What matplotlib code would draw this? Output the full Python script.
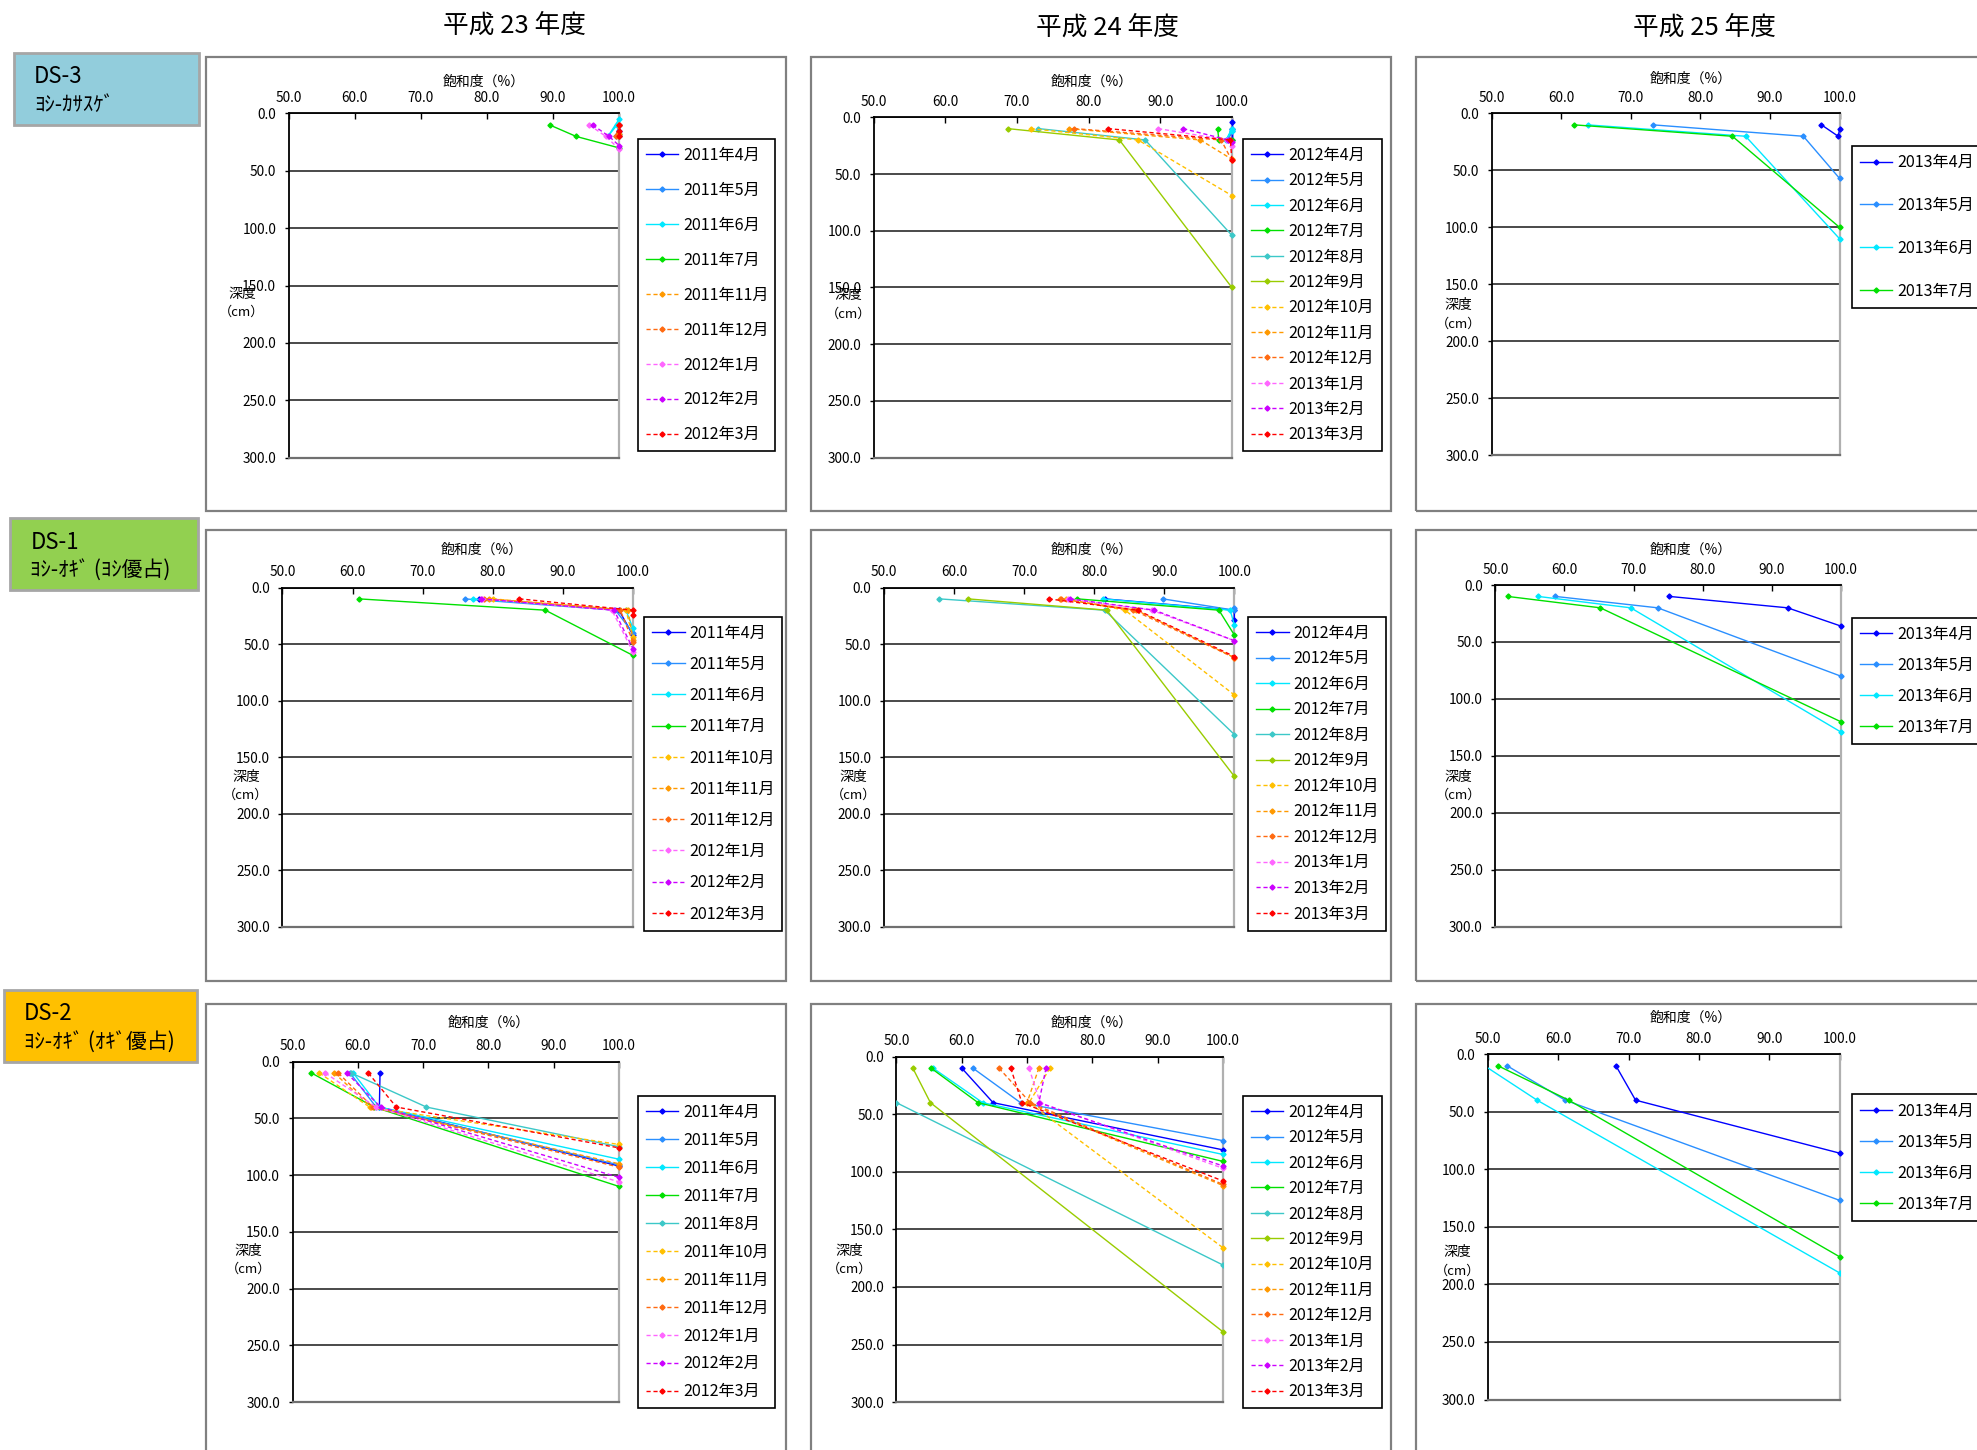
import matplotlib
matplotlib.use('Agg')
import matplotlib.pyplot as plt
from matplotlib.patches import Rectangle

plt.rcParams['font.family'] = ['Noto Sans CJK JP', 'DejaVu Sans']

# ----------------------------------------------------------------- data
year_titles = ['平成 23 年度', '平成 24 年度', '平成 25 年度']
site_names = ['DS-3', 'DS-1', 'DS-2']
site_types = ['ﾖｼ-ｶｻｽｹﾞ', 'ﾖｼ-ｵｷﾞ (ﾖｼ優占)', 'ﾖｼ-ｵｷﾞ (ｵｷﾞ優占)']
x_ticks = [50.0, 60.0, 70.0, 80.0, 90.0, 100.0]
y_ticks = [0.0, 50.0, 100.0, 150.0, 200.0, 250.0, 300.0]
x_title = '飽和度（%）'
y_title = ['深度', '（cm）']

# ---- DS-3  平成23年度
ds3_h23_labels = ['2011年4月', '2011年5月', '2011年6月', '2011年7月', '2011年11月',
                  '2011年12月', '2012年1月', '2012年2月', '2012年3月']
ds3_h23_sat = [[100, 100, 100], [100, 99.5, 100], [99.7, 98.3, 100], [89.5, 93.5, 100],
               [100, 99.8, 100], [100, 99.5, 100], [95.5, 98.0, 100], [96.0, 98.5, 100],
               [100, 100, 100]]
ds3_h23_depth = [[10, 20, 15], [10, 20, 18], [10, 20, 5], [10, 20, 30],
                 [10, 20, 18], [10, 20, 20], [10, 20, 31], [10, 20, 28],
                 [10, 20, 15]]

# ---- DS-3  平成24年度
ds3_h24_labels = ['2012年4月', '2012年5月', '2012年6月', '2012年7月', '2012年8月', '2012年9月',
                  '2012年10月', '2012年11月', '2012年12月', '2013年1月', '2013年2月', '2013年3月']
ds3_h24_sat = [[100, 100, 100], [100, 99.5, 100], [100, 99.2, 100], [98.0, 98.2, 100],
               [73.0, 87.9, 100], [68.7, 84.3, 100], [71.9, 86.9, 100], [77.2, 95.6, 100],
               [78.0, 98.5, 100], [89.7, 99.3, 100], [93.2, 99.5, 100], [82.7, 99.8, 100]]
ds3_h24_depth = [[10, 20, 4], [10, 20, 12], [10, 20, 12], [10, 20, 20],
                 [10, 20, 104], [10, 20, 150], [10, 20, 69], [10, 20, 37],
                 [10, 20, 38], [10, 20, 25], [10, 20, 22], [10, 20, 38]]

# ---- DS-3  平成25年度
ds3_h25_labels = ['2013年4月', '2013年5月', '2013年6月', '2013年7月']
ds3_h25_sat = [[97.4, 99.8, 100], [73.2, 94.8, 100], [63.8, 86.5, 100], [61.9, 84.6, 100]]
ds3_h25_depth = [[10, 20, 14], [10, 20, 57], [10, 20, 110], [10, 20, 100]]

# ---- DS-1  平成23年度
ds1_h23_labels = ['2011年4月', '2011年5月', '2011年6月', '2011年7月', '2011年10月',
                  '2011年11月', '2011年12月', '2012年1月', '2012年2月', '2012年3月']
ds1_h23_sat = [[78.0, 98.0, 100], [76.0, 97.5, 100], [77.2, 99.0, 100], [60.9, 87.5, 100],
               [80.0, 99.0, 100], [79.5, 99.3, 100], [78.8, 98.2, 100], [78.5, 97.0, 100],
               [78.3, 97.3, 100], [83.8, 100, 100]]
ds1_h23_depth = [[10, 20, 42], [10, 20, 40], [10, 20, 36], [10, 20, 60],
                 [10, 20, 44], [10, 20, 46], [10, 20, 48], [10, 20, 57],
                 [10, 20, 54], [10, 20, 24]]

# ---- DS-1  平成24年度
ds1_h24_labels = ds3_h24_labels
ds1_h24_sat = [[81.5, 100, 100], [89.8, 100, 100], [81.2, 99.4, 100], [77.6, 97.8, 100],
               [57.9, 81.5, 100], [62.0, 81.8, 100], [76.0, 84.4, 100], [75.1, 86.0, 100],
               [75.3, 85.6, 100], [76.3, 88.2, 100], [76.6, 88.6, 100], [73.5, 86.2, 100]]
ds1_h24_depth = [[10, 20, 29], [10, 20, 18], [10, 20, 33], [10, 20, 42],
                 [10, 20, 130], [10, 20, 167], [10, 20, 95], [10, 20, 62],
                 [10, 20, 62], [10, 20, 47], [10, 20, 47], [10, 20, 61]]

# ---- DS-1  平成25年度
ds1_h25_labels = ds3_h25_labels
ds1_h25_sat = [[75.2, 92.3, 100], [58.7, 73.5, 100], [56.2, 69.6, 100], [51.8, 65.2, 100]]
ds1_h25_depth = [[10, 20, 36], [10, 20, 80], [10, 20, 129], [10, 20, 120]]

# ---- DS-2  平成23年度
ds2_h23_labels = ['2011年4月', '2011年5月', '2011年6月', '2011年7月', '2011年8月',
                  '2011年10月', '2011年11月', '2011年12月', '2012年1月', '2012年2月',
                  '2012年3月']
ds2_h23_sat = [[63.4, 63.3, 100], [58.8, 62.8, 100], [59.3, 63.3, 100], [52.9, 62.5, 100],
               [59.0, 70.5, 100], [54.1, 61.8, 100], [56.4, 62.0, 100], [57.0, 62.3, 100],
               [55.0, 62.8, 100], [58.3, 63.5, 100], [61.6, 65.9, 100]]
ds2_h23_depth = [[10, 40, 92], [10, 40, 91], [10, 40, 86], [10, 40, 110],
                 [10, 40, 75], [10, 40, 73], [10, 40, 90], [10, 40, 93],
                 [10, 40, 106], [10, 40, 102], [10, 40, 76]]

# ---- DS-2  平成24年度
ds2_h24_labels = ds3_h24_labels
ds2_h24_sat = [[60.0, 64.8, 100], [61.7, 69.0, 100], [55.6, 63.2, 100], [55.3, 62.5, 100],
               [40.0, 50.0, 100], [52.5, 55.2, 100], [73.5, 70.3, 100], [71.8, 70.0, 100],
               [65.7, 70.5, 100], [70.3, 72.0, 100], [72.9, 71.8, 100], [67.5, 69.2, 100]]
ds2_h24_depth = [[10, 40, 81], [10, 40, 73], [10, 40, 85], [10, 40, 91],
                 [10, 40, 181], [10, 40, 239], [10, 40, 166], [10, 40, 112],
                 [10, 40, 111], [10, 40, 97], [10, 40, 95], [10, 40, 108]]

# ---- DS-2  平成25年度
ds2_h25_labels = ds3_h25_labels
ds2_h25_sat = [[68.2, 71.0, 100], [52.7, 61.0, 100], [49.5, 57.0, 100], [51.4, 61.5, 100]]
ds2_h25_depth = [[10, 40, 86], [10, 40, 127], [10, 40, 190], [10, 40, 176]]

# ----------------------------------------------------------------- style
month_colors = {4: '#0000FF', 5: '#2A8FFF', 6: '#00E8FF', 7: '#00E000', 8: '#3CC8C8',
                9: '#99CC00', 10: '#FFC000', 11: '#FF9900', 12: '#FF6A10',
                1: '#FF66FF', 2: '#CC00FF', 3: '#FF0000'}
site_colors = ['#92CDDC', '#92D050', '#FFC000']

panels = [
    [(ds3_h23_labels, ds3_h23_sat, ds3_h23_depth),
     (ds3_h24_labels, ds3_h24_sat, ds3_h24_depth),
     (ds3_h25_labels, ds3_h25_sat, ds3_h25_depth)],
    [(ds1_h23_labels, ds1_h23_sat, ds1_h23_depth),
     (ds1_h24_labels, ds1_h24_sat, ds1_h24_depth),
     (ds1_h25_labels, ds1_h25_sat, ds1_h25_depth)],
    [(ds2_h23_labels, ds2_h23_sat, ds2_h23_depth),
     (ds2_h24_labels, ds2_h24_sat, ds2_h24_depth),
     (ds2_h25_labels, ds2_h25_sat, ds2_h25_depth)],
]

# layout grid of the reference (1568 x 1150 units)
SW, SH = 1568.0, 1150.0
def fx(x): return x / SW
def fy(y): return 1.0 - y / SH
def box(l, t, r, b): return [fx(l), fy(b), fx(r) - fx(l), fy(t) - fy(b)]

col_x = [(163, 623), (643, 1103), (1123, 1640)]
row_y = [(45, 405), (420, 778), (796, 1190)]
plot_boxes = [
    [(229, 90, 491, 363), (693, 93, 977, 363), (1183, 90, 1459, 361)],
    [(224, 466, 502, 735), (701, 466, 979, 735), (1186, 464, 1460, 735)],
    [(232, 842, 491, 1112), (711, 838, 970, 1112), (1180, 836, 1459, 1110)],
]
legend_boxes = [
    [(506, 110, 615, 358), (986, 110, 1096, 358), (1469, 116, 1600, 244)],
    [(511, 489, 620, 738), (990, 489, 1099, 738), (1469, 490, 1600, 590)],
    [(506, 869, 615, 1117), (986, 869, 1096, 1117), (1469, 868, 1600, 968)],
]
xlabel_pos = [[(384, 65), (866, 65), (1341, 62)],
              [(382, 436), (866, 436), (1341, 436)],
              [(388, 811), (866, 811), (1341, 807)]]
ylabel_pos = [[(192, 233), (673, 234), (1157, 242)],
              [(195, 616), (677, 616), (1157, 616)],
              [(197, 992), (674, 992), (1156, 993)]]
title_pos = [(408, 20), (878, 22), (1352, 22)]
site_boxes = [(11, 42, 158, 99), (8, 411, 157, 468), (3, 785, 156, 842)]

LEG_FS = 11.6

fig = plt.figure(figsize=(19.77, 14.5), dpi=100)
fig.patch.set_facecolor('white')

for t, (x, y) in zip(year_titles, title_pos):
    fig.text(fx(x), fy(y), t, ha='center', va='center', fontsize=18.5)

for (l, t, r, b), name, typ, col in zip(site_boxes, site_names, site_types, site_colors):
    fig.patches.append(Rectangle((fx(l), fy(b)), fx(r) - fx(l), fy(t) - fy(b),
                                 transform=fig.transFigure, facecolor=col,
                                 edgecolor='#A6A6A6', lw=2.0))
    fig.text(fx(l + 16), fy(t + 19), name, ha='left', va='center', fontsize=16)
    fig.text(fx(l + 16), fy(t + 41), typ, ha='left', va='center', fontsize=15)


def month_of(label):
    return int(label.split('年')[1].rstrip('月'))


def make_legend(ax, handles, labels, lbox, spacing):
    l, t, rr, b = lbox
    leg = ax.legend(handles, labels, loc='upper left',
                    bbox_to_anchor=(fx(l), fy(b), fx(rr) - fx(l), fy(t) - fy(b)),
                    bbox_transform=fig.transFigure, mode='expand', borderaxespad=0,
                    fontsize=LEG_FS, frameon=True, fancybox=False, edgecolor='black',
                    framealpha=1, numpoints=1, handlelength=2.0, handletextpad=0.3,
                    borderpad=0.5, labelspacing=spacing)
    leg.get_frame().set_linewidth(1.2)
    return leg


legend_specs = []
for r in range(3):
    for c in range(3):
        x0, x1 = col_x[c]
        y0, y1 = row_y[r]
        fig.patches.append(Rectangle((fx(x0), fy(y1)), fx(x1) - fx(x0), fy(y0) - fy(y1),
                                     transform=fig.transFigure, facecolor='none',
                                     edgecolor='#808080', lw=1.6, zorder=0))
        labels, sat, dep = panels[r][c]
        ax = fig.add_axes(box(*plot_boxes[r][c]))
        handles = []
        for lab, xs, ys in zip(labels, sat, dep):
            m = month_of(lab)
            col = month_colors[m]
            ls = '-' if 4 <= m <= 9 else (0, (3, 2))
            clip = min(xs) < 50
            ln, = ax.plot(xs, ys, color=col, lw=1.0, linestyle=ls, marker='D',
                          markersize=2.6, markerfacecolor=col, markeredgecolor=col,
                          clip_on=clip, zorder=3)
            handles.append(ln)
        ax.set_xlim(50, 100)
        ax.set_ylim(300, 0)
        ax.xaxis.tick_top()
        ax.set_xticks(x_ticks)
        ax.set_xticklabels(['%.1f' % v for v in x_ticks], fontsize=9.8)
        ax.set_yticks(y_ticks)
        ax.set_yticklabels(['%.1f' % v for v in y_ticks], fontsize=9.8)
        ax.tick_params(axis='x', direction='in', length=4, width=1, pad=6)
        ax.tick_params(axis='y', direction='out', length=3, width=1, pad=6)
        ax.yaxis.grid(True, color='#3A3A3A', lw=1.3)
        ax.set_axisbelow(True)
        for s in ['top', 'left']:
            ax.spines[s].set_color('black')
            ax.spines[s].set_linewidth(1.3)
        ax.spines['right'].set_color('#B0B0B0')
        ax.spines['right'].set_linewidth(1.6)
        ax.spines['bottom'].set_color('#707070')
        ax.spines['bottom'].set_linewidth(1.6)

        xl, yl = xlabel_pos[r][c]
        fig.text(fx(xl), fy(yl), x_title, ha='center', va='center', fontsize=10)
        yx, yy = ylabel_pos[r][c]
        fig.text(fx(yx), fy(yy), y_title[0], ha='center', va='center', fontsize=10)
        fig.text(fx(yx), fy(yy + 15), y_title[1], ha='center', va='center', fontsize=9.5)

        legend_specs.append((ax, handles, labels, legend_boxes[r][c]))

# first pass: measure legend heights, then rebuild with spacing that fills each box
fs_px = LEG_FS * fig.dpi / 72.0
base = 0.5
legs = [make_legend(ax, h, lab, lb, base) for ax, h, lab, lb in legend_specs]
fig.canvas.draw()
renderer = fig.canvas.get_renderer()
for leg, (ax, h, lab, lb) in zip(legs, legend_specs):
    cur_h = leg.get_window_extent(renderer).height
    target_h = (lb[3] - lb[1]) / SH * fig.get_figheight() * fig.dpi
    n = len(lab)
    spacing = base + (target_h - cur_h) / (max(n - 1, 1) * fs_px)
    leg.remove()
    make_legend(ax, h, lab, lb, max(spacing, 0.1))

fig.savefig('out.png', dpi=100, facecolor='white')
